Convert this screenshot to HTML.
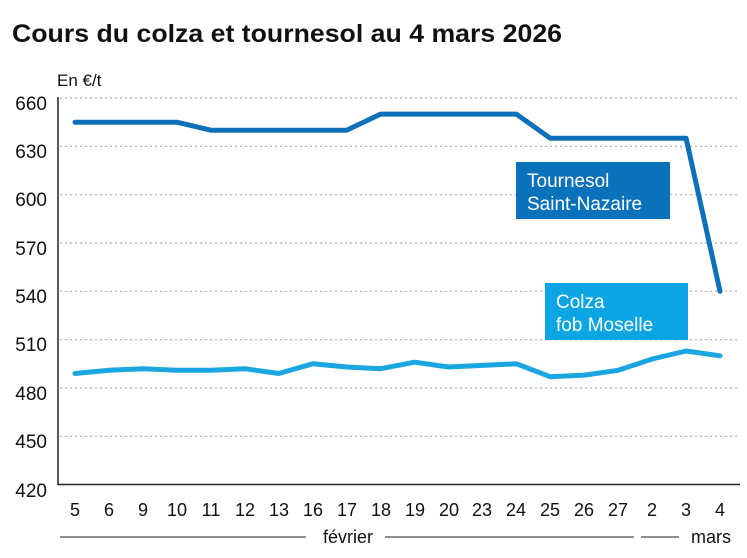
<!DOCTYPE html>
<html><head><meta charset="utf-8"><style>
body{margin:0;background:#fff;}
svg{display:block;font-family:"Liberation Sans",sans-serif;}
</style></head><body>
<svg width="747" height="558" viewBox="0 0 747 558">
<text x="12" y="42" font-size="25" font-weight="bold" fill="#111" textLength="550" lengthAdjust="spacingAndGlyphs">Cours du colza et tournesol au 4 mars 2026</text>
<text x="57" y="86" font-size="17" fill="#111">En €/t</text>
<g stroke="#aaa" stroke-width="1.2" stroke-dasharray="2,3">
<line x1="60" x2="740" y1="98" y2="98"/><line x1="60" x2="740" y1="146.3" y2="146.3"/>
<line x1="60" x2="740" y1="194.7" y2="194.7"/><line x1="60" x2="740" y1="243" y2="243"/>
<line x1="60" x2="740" y1="291.3" y2="291.3"/><line x1="60" x2="740" y1="339.7" y2="339.7"/>
<line x1="60" x2="740" y1="388" y2="388"/><line x1="60" x2="740" y1="436.3" y2="436.3"/>
</g>
<line x1="58" y1="97" x2="58" y2="485" stroke="#222" stroke-width="1.5"/>
<line x1="58" y1="484.5" x2="740" y1="484.5" y2="484.5" stroke="#222" stroke-width="1.5"/>
<g font-size="19" fill="#111" text-anchor="end">
<text x="47" y="110">660</text><text x="47" y="158">630</text><text x="47" y="206">600</text>
<text x="47" y="255">570</text><text x="47" y="303">540</text><text x="47" y="351">510</text>
<text x="47" y="400">480</text><text x="47" y="448">450</text><text x="47" y="497">420</text>
</g>
<g font-size="18" fill="#111" text-anchor="middle">
<text x="75" y="516">5</text><text x="109" y="516">6</text><text x="143" y="516">9</text>
<text x="177" y="516">10</text><text x="211" y="516">11</text><text x="245" y="516">12</text>
<text x="279" y="516">13</text><text x="313" y="516">16</text><text x="347" y="516">17</text>
<text x="381" y="516">18</text><text x="415" y="516">19</text><text x="449" y="516">20</text>
<text x="482" y="516">23</text><text x="516" y="516">24</text><text x="550" y="516">25</text>
<text x="584" y="516">26</text><text x="618" y="516">27</text><text x="652" y="516">2</text>
<text x="686" y="516">3</text><text x="720" y="516">4</text>
<text x="348" y="543">février</text><text x="711" y="543">mars</text>
</g>
<g stroke="#222" stroke-width="1">
<line x1="60" x2="306" y1="537" y2="537"/><line x1="385" x2="634" y1="537" y2="537"/>
<line x1="641" x2="679" y1="537" y2="537"/>
</g>
<polyline fill="none" stroke="#0e70b8" stroke-width="5" stroke-linejoin="round" stroke-linecap="round"
points="75,122.2 109,122.2 142.9,122.2 176.9,122.2 210.8,130.2 244.8,130.2 278.7,130.2 312.7,130.2 346.6,130.2 380.6,114.1 414.5,114.1 448.5,114.1 482.4,114.1 516.4,114.1 550.3,138.3 584.3,138.3 618.2,138.3 652.2,138.3 686.1,138.3 720,291.3"/>
<polyline fill="none" stroke="#1aa6e0" stroke-width="5" stroke-linejoin="round" stroke-linecap="round"
points="75,373.5 109,370.3 142.9,368.7 176.9,370.3 210.8,370.3 244.8,368.7 278.7,373.5 312.7,363.8 346.6,367 380.6,368.7 414.5,362.2 448.5,367 482.4,365.4 516.4,363.8 550.3,376.7 584.3,375.1 618.2,370.3 652.2,359 686.1,351 720,355.8"/>
<rect x="516" y="162" width="154" height="57" fill="#0a72ba"/>
<text x="527" y="187" font-size="19" fill="#fff">Tournesol</text>
<text x="527" y="210" font-size="19" fill="#fff">Saint-Nazaire</text>
<rect x="545" y="283" width="143" height="57" fill="#0ba5e3"/>
<text x="556" y="308" font-size="19" fill="#fff">Colza</text>
<text x="556" y="331" font-size="19" fill="#fff">fob Moselle</text>
</svg>
</body></html>
